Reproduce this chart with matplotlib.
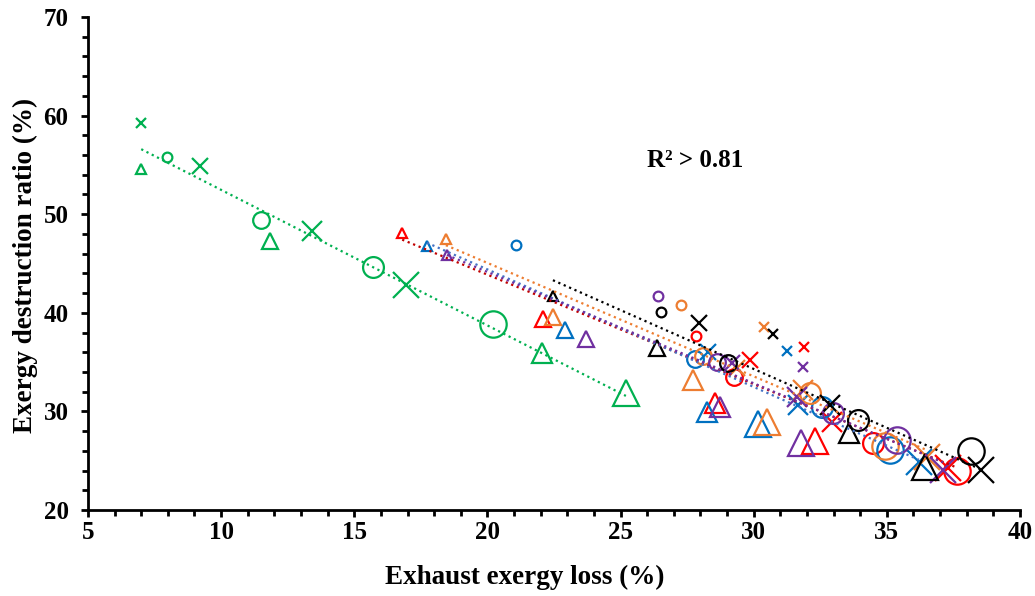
import matplotlib
matplotlib.use("Agg")
import matplotlib.pyplot as plt
from matplotlib.ticker import MultipleLocator
import numpy as np

plt.rcParams['font.family'] = ['Liberation Serif', 'DejaVu Serif']
plt.rcParams['font.weight'] = 'bold'

# each series: 4 triangles, 4 circles, 4 crosses (small -> large)
green_x = [7.0, 11.85, 22.05, 25.2, 7.97, 11.5, 15.7, 20.2, 7.0, 9.2, 13.4, 16.95]
green_y = [54.6, 47.3, 35.9, 31.9, 55.8, 49.4, 44.6, 38.9, 59.2, 54.9, 48.3, 42.8]

red_x = [16.8, 22.1, 28.55, 32.3, 27.83, 29.26, 34.48, 37.63, 31.9, 29.86, 32.94, 37.3]
red_y = [48.1, 39.4, 30.85, 27.0, 37.6, 33.5, 26.8, 24.0, 36.5, 35.2, 28.9, 24.3]

blue_x = [17.73, 22.9, 28.24, 30.16, 21.07, 27.8, 32.56, 35.1, 31.25, 28.28, 31.66, 36.2]
blue_y = [46.8, 38.3, 29.9, 28.7, 46.9, 35.3, 30.45, 26.1, 36.1, 36.0, 30.65, 24.9]

orange_x = [18.44, 22.46, 27.72, 30.5, 27.27, 28.1, 32.1, 34.93, 30.38, 29.37, 31.85, 36.5]
orange_y = [47.5, 39.6, 33.2, 28.9, 40.8, 35.6, 31.9, 26.5, 38.6, 34.4, 32.2, 25.4]

purple_x = [18.48, 23.7, 28.73, 31.77, 26.4, 28.62, 32.98, 35.4, 31.85, 29.2, 31.62, 37.1]
purple_y = [45.9, 37.3, 30.4, 26.8, 41.7, 35.0, 29.8, 27.1, 34.5, 34.9, 31.5, 24.05]

black_x = [22.46, 26.37, 33.58, 36.43, 26.52, 29.03, 33.9, 38.16, 30.72, 27.94, 32.86, 38.53]
black_y = [41.7, 36.4, 27.8, 24.4, 40.1, 34.9, 29.1, 26.0, 37.8, 39.0, 30.65, 24.1]

series = [
    (green_x, green_y, '#00B050', '#00B050'),
    (red_x, red_y, '#FF0000', '#C00000'),
    (blue_x, blue_y, '#0070C0', '#4472C4'),
    (orange_x, orange_y, '#ED7D31', '#ED7D31'),
    (purple_x, purple_y, '#7030A0', '#7030A0'),
    (black_x, black_y, 'black', 'black'),
]

shapes = ['^'] * 4 + ['o'] * 4 + ['x'] * 4
sizes = [7, 12, 15, 19] * 3

fig = plt.figure(figsize=(10.35, 5.96), dpi=100)
ax = fig.add_axes([0.085, 0.1443, 0.9005, 0.8272])

for xs, ys, color, line_color in series:
    for x, y, m, s in zip(xs, ys, shapes, sizes):
        ax.plot(x, y, marker=m, ms=s, mfc='none', mec=color, mew=1.6, ls='none', zorder=3)
    # linear trend over the series range
    k, b = np.polyfit(xs, ys, 1)
    lx = np.array([min(xs), max(xs)])
    ax.plot(lx, k * lx + b, ls=':', color=line_color, lw=1.6, zorder=4)

ax.text(26.0, 55.4, 'R² > 0.81', fontsize=18, fontweight='bold', va='center')

ax.set_xlim(5, 40)
ax.set_ylim(20, 70)
ax.xaxis.set_major_locator(MultipleLocator(5))
ax.xaxis.set_minor_locator(MultipleLocator(1))
ax.yaxis.set_major_locator(MultipleLocator(10))
ax.yaxis.set_minor_locator(MultipleLocator(2))
ax.spines['top'].set_visible(False)
ax.spines['right'].set_visible(False)
ax.spines['left'].set_linewidth(2)
ax.spines['bottom'].set_linewidth(2)
ax.tick_params(which='major', length=5, width=2, labelsize=18, direction='out')
ax.tick_params(which='minor', length=4, width=2, direction='out')
ax.tick_params(axis='x', pad=3)
ax.tick_params(axis='y', pad=9)

ax.set_xlabel('Exhaust exergy loss (%)', fontsize=19.5, fontweight='bold')
ax.set_ylabel('Exergy destruction ratio (%)', fontsize=19.5, fontweight='bold')
ax.xaxis.set_label_coords(0.469, -0.112)
ax.yaxis.set_label_coords(-0.054, 0.497)

fig.savefig('out.png', dpi=100)
